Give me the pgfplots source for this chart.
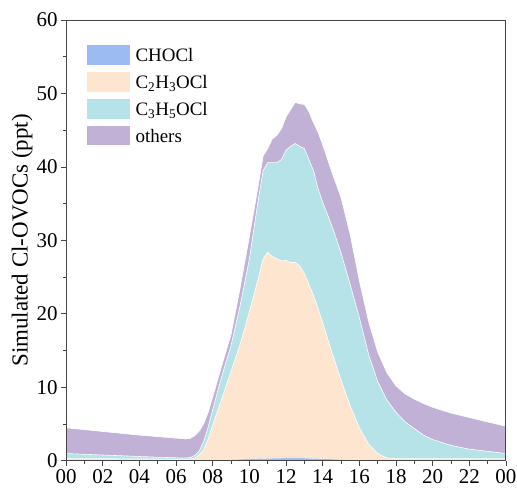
\documentclass[border=0pt]{standalone}
\usepackage{fontspec}
\setmainfont{Liberation Serif}
\usepackage{pgfplots}
\pgfplotsset{compat=1.18}
\usepackage{pgfplotstable}
\usetikzlibrary{calc}

\definecolor{cA}{RGB}{155,187,242}
\definecolor{cB}{RGB}{253,229,207}
\definecolor{cC}{RGB}{181,227,232}
\definecolor{cD}{RGB}{194,177,214}
\definecolor{axgray}{RGB}{70,70,70}

% cumulative levels: A = CHOCl, B = A + C2H3OCl, C = B + C3H5OCl, D = C + others
\pgfplotstableread{
t A B C D
0 0.05 0.30 1.00 4.50
1 0.05 0.30 0.90 4.25
2 0.05 0.30 0.80 4.00
3 0.05 0.28 0.70 3.75
4 0.05 0.26 0.60 3.50
5 0.05 0.25 0.50 3.30
6 0.05 0.22 0.42 3.10
6.5 0.05 0.22 0.40 3.00
6.75 0.05 0.25 0.45 3.05
7 0.05 0.35 0.70 3.40
7.25 0.06 0.80 1.30 4.00
7.5 0.07 1.50 2.60 5.00
7.75 0.08 3.00 4.60 6.60
8 0.10 4.90 7.00 8.70
8.5 0.13 8.50 11.60 13.00
9 0.18 12.20 15.70 17.20
9.5 0.23 15.90 21.20 23.60
10 0.28 20.30 27.50 30.50
10.5 0.32 25.00 35.80 37.70
10.75 0.34 27.50 39.50 41.50
11 0.35 28.40 40.60 42.50
11.25 0.36 27.80 40.60 43.80
11.5 0.37 27.50 40.60 44.30
11.75 0.38 27.20 41.00 45.20
12 0.40 27.30 42.30 46.80
12.25 0.40 27.00 42.80 47.80
12.5 0.40 27.00 43.20 48.80
12.75 0.39 26.50 42.80 48.60
13 0.38 25.50 42.50 48.50
13.25 0.36 24.00 41.00 47.50
13.5 0.34 22.50 39.50 46.00
13.75 0.32 20.70 37.00 44.70
14 0.30 18.80 35.20 43.00
14.5 0.25 14.80 32.00 39.30
15 0.20 11.00 28.30 35.80
15.5 0.15 7.50 24.00 30.80
16 0.10 4.50 19.50 24.50
16.5 0.07 2.30 14.50 19.00
17 0.05 1.00 10.80 14.80
17.5 0.05 0.40 8.30 12.00
18 0.05 0.30 6.60 10.20
18.5 0.05 0.30 5.30 9.10
19 0.05 0.30 4.40 8.40
19.5 0.05 0.30 3.50 7.80
20 0.05 0.30 2.90 7.30
21 0.05 0.30 2.10 6.50
22 0.05 0.30 1.60 5.90
23 0.05 0.30 1.30 5.30
24 0.05 0.30 1.00 4.70
}\data

\begin{document}
\begin{tikzpicture}
\begin{axis}[
  name=ax,
  scale only axis,
  width=439bp, height=440bp,
  xmin=0, xmax=24, ymin=0, ymax=60,
  xtick={0,2,...,24},
  xticklabels={00,02,04,06,08,10,12,14,16,18,20,22,00},
  minor x tick num=1,
  ytick={0,10,...,60},
  minor y tick num=1,
  tick align=outside,
  tick pos=left,
  major tick length=5bp,
  minor tick length=3bp,
  axis line style={axgray, line width=1bp},
  every tick/.style={axgray, line width=0.9bp},
  /pgf/number format/assume math mode=true,
  tick label style={font=\fontsize{21}{21}\selectfont},
  ylabel={Simulated Cl-OVOCs (ppt)},
  ylabel style={font=\fontsize{23}{23}\selectfont, at={(axis description cs:-0.1,0.5)}, anchor=center},
  axis on top,
  legend cell align=left,
  legend style={draw=none, fill=none, inner sep=0bp, at={(0.048,0.943)}, anchor=north west,
    font=\fontsize{19}{19}\selectfont, row sep=4bp,
    nodes={inner sep=0bp, text height=13bp, text depth=6.5bp}},
  legend image code/.code={\fill[#1] (0bp,-6.5bp) rectangle (42bp,13bp);},
]
\addlegendimage{fill=cA, draw=none}
\addlegendentry{\hspace{6bp}CHOCl}
\addlegendimage{fill=cB, draw=none}
\addlegendentry{\hspace{6bp}C\textsubscript{2}H\textsubscript{3}OCl}
\addlegendimage{fill=cC, draw=none}
\addlegendentry{\hspace{6bp}C\textsubscript{3}H\textsubscript{5}OCl}
\addlegendimage{fill=cD, draw=none}
\addlegendentry{\hspace{6bp}others}

\addplot[forget plot, fill=cD, draw=white, line width=0.6bp] table[x=t, y=D] {\data} \closedcycle;
\addplot[forget plot, fill=cC, draw=white, line width=0.6bp] table[x=t, y=C] {\data} \closedcycle;
\addplot[forget plot, fill=cB, draw=white, line width=0.6bp] table[x=t, y=B] {\data} \closedcycle;
\addplot[forget plot, fill=cA, draw=white, line width=0.3bp] table[x=t, y=A] {\data} \closedcycle;
\end{axis}
\pgfresetboundingbox
\path ($(ax.south west)+(-66bp,-28bp)$) rectangle ($(ax.north east)+(11bp,20bp)$);
\end{tikzpicture}
\end{document}
